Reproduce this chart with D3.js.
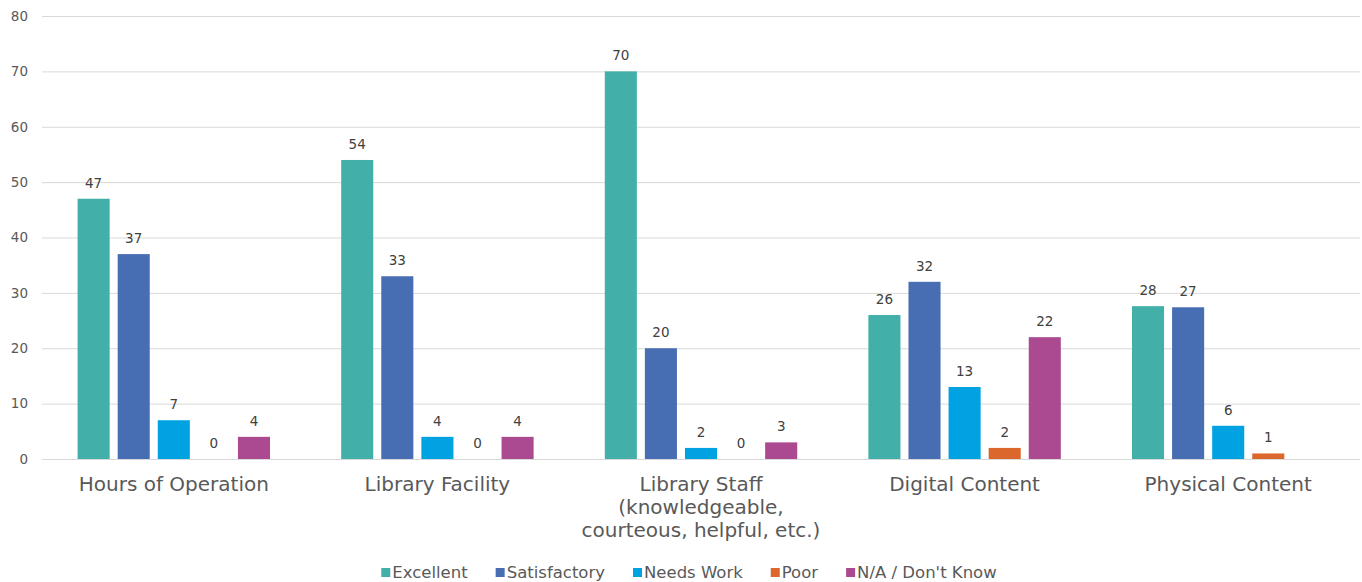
<!DOCTYPE html>
<html>
<head>
<meta charset="utf-8">
<script src="https://cdn.jsdelivr.net/npm/d3@7"></script>
<style>
  body { margin: 0; background: #fff; }
  svg { display: block; }
  text { font-family: "Century Gothic", "DejaVu Sans", sans-serif; }
</style>
</head>
<body>
<svg width="1362" height="582"></svg>
<script>
// survey answers per service area
var categories = [
  ["Hours of Operation"],
  ["Library Facility"],
  ["Library Staff", "(knowledgeable,", "courteous, helpful, etc.)"],
  ["Digital Content"],
  ["Physical Content"]
];
var seriesNames = ["Excellent", "Satisfactory", "Needs Work", "Poor", "N/A / Don't Know"];
var seriesColors = ["#42b0a8", "#476db3", "#00a2e1", "#dc672c", "#ab4a90"];

var excellent    = [47, 54, 70, 26, 27.6];
var satisfactory = [37, 33, 20, 32, 27.4];
var needsWork    = [7, 4, 2, 13, 6];
var poor         = [0, 0, 0, 2, 1];
var naDontKnow   = [4, 4, 3, 22, null];

var yTicks = [0, 10, 20, 30, 40, 50, 60, 70, 80];

var allSeries = [excellent, satisfactory, needsWork, poor, naDontKnow];

function drawChart() {
  var svg = d3.select("svg");

  var mLeft = 42, mRight = 1360, mTop = 16, mBottom = 459;

  var x0 = d3.scaleBand()
      .domain(d3.range(categories.length))
      .range([mLeft, mRight])
      .paddingInner(0.27)
      .paddingOuter(0.135);

  var x1 = d3.scaleBand()
      .domain(d3.range(seriesNames.length))
      .range([0, x0.bandwidth()])
      .paddingInner(0.2)
      .paddingOuter(0);

  var y = d3.scaleLinear().domain([0, 80]).range([mBottom, mTop]);

  // gridlines + tick labels
  var yAxis = svg.append("g")
      .attr("transform", "translate(" + mLeft + ",0)")
      .call(d3.axisLeft(y).tickValues(yTicks).tickSize(-(mRight - mLeft)).tickPadding(14));
  yAxis.select(".domain").remove();
  yAxis.selectAll("line").attr("stroke", "#d9d9d9");
  yAxis.selectAll("text")
      .attr("fill", "#595959")
      .style("font-size", "13.5px");

  // bars
  var groups = svg.append("g").selectAll("g")
      .data(categories)
      .enter().append("g")
      .attr("transform", function(d, i) { return "translate(" + x0(i) + ",0)"; });

  var fmt = d3.format(".0f");

  groups.each(function(c, ci) {
    var g = d3.select(this);
    var vals = allSeries.map(function(s, si) { return { si: si, v: s[ci] }; })
        .filter(function(d) { return d.v != null; });

    g.selectAll("rect")
        .data(vals)
        .enter().append("rect")
        .attr("x", function(d) { return x1(d.si); })
        .attr("width", x1.bandwidth())
        .attr("y", function(d) { return y(d.v); })
        .attr("height", function(d) { return y(0) - y(d.v); })
        .attr("fill", function(d) { return seriesColors[d.si]; });

    g.selectAll("text.lbl")
        .data(vals)
        .enter().append("text")
        .attr("class", "lbl")
        .attr("x", function(d) { return x1(d.si) + x1.bandwidth() / 2; })
        .attr("y", function(d) { return y(d.v) - 11; })
        .attr("text-anchor", "middle")
        .attr("fill", "#404040")
        .style("font-size", "13.5px")
        .text(function(d) { return fmt(d.v); });
  });

  // category labels
  svg.append("g").selectAll("text")
      .data(categories)
      .enter().append("text")
      .attr("x", function(d, i) { return x0(i) + x0.bandwidth() / 2; })
      .attr("y", 491)
      .attr("text-anchor", "middle")
      .attr("fill", "#595959")
      .style("font-size", "20px")
      .each(function(lines) {
        var t = d3.select(this);
        lines.forEach(function(line, k) {
          t.append("tspan")
            .attr("x", t.attr("x"))
            .attr("dy", k === 0 ? 0 : 23)
            .text(line);
        });
      });

  // legend
  var items = svg.append("g").selectAll("g")
      .data(seriesNames)
      .enter().append("g");
  items.append("rect")
      .attr("width", 9).attr("height", 9)
      .attr("y", -10)
      .attr("fill", function(d, i) { return seriesColors[i]; });
  items.append("text")
      .attr("x", 11)
      .attr("fill", "#595959")
      .style("font-size", "16.5px")
      .text(function(d) { return d; });

  var gap = 28, pos = 0, xs = [];
  items.each(function() {
    xs.push(pos);
    pos += 11 + d3.select(this).select("text").node().getComputedTextLength() + gap;
  });
  var total = pos - gap;
  var start = 689 - total / 2;
  items.attr("transform", function(d, i) { return "translate(" + (start + xs[i]) + ",578)"; });
}

drawChart();
</script>
</body>
</html>
